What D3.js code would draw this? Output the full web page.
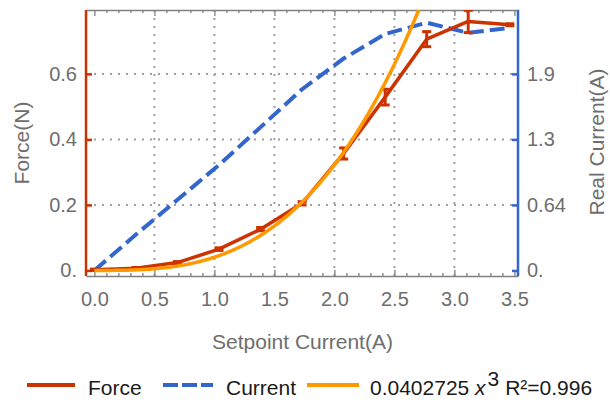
<!DOCTYPE html>
<html lang="en">
<head>
    <meta charset="UTF-8">
    <title>Force vs Setpoint Current</title>
    <style type="text/css">
        * {
            margin: 0;
            padding: 0;
        }

        body {
            background: #fff;
        }

        #chart-area {
            width: 610px;
            height: 402px;
        }

        text {
            font-family: "Liberation Sans", Arial, sans-serif;
        }
    </style>
</head>
<body>
<div id="chart-area"></div>
<script src="https://cdn.jsdelivr.net/npm/d3@7"></script>
<script type="text/javascript">

  const WIDTH = 610
  const HEIGHT = 402

  // measured data
  const setpoint = [0, 0.346, 0.692, 1.038, 1.385, 1.731, 2.077, 2.423, 2.769, 3.115, 3.462]
  const force = [0.002, 0.007, 0.024, 0.065, 0.126, 0.205, 0.357, 0.529, 0.706, 0.760, 0.750]
  const forceErr = [0.002, 0.002, 0.003, 0.004, 0.005, 0.005, 0.017, 0.024, 0.023, 0.034, 0.003]
  const current = [0, 0.35, 0.69, 1.03, 1.40, 1.77, 2.07, 2.31, 2.42, 2.32, 2.37]

  // fitted cubic  F = a * x^3
  const fitCoef = 0.0402725
  const fitR2 = 0.996

  // ticks
  const xTicks = [0, 0.5, 1, 1.5, 2, 2.5, 3, 3.5]
  const xTickLabels = ['0.0', '0.5', '1.0', '1.5', '2.0', '2.5', '3.0', '3.5']
  const forceTicks = [0, 0.2, 0.4, 0.6]
  const forceTickLabels = ['0.', '0.2', '0.4', '0.6']
  const currentTicks = [0, 0.64, 1.28, 1.92]
  const currentTickLabels = ['0.', '0.64', '1.3', '1.9']

  const RED = '#cc3300'
  const BLUE = '#3366cc'
  const ORANGE = '#ff9900'
  const GRAY = '#6e6e6e'

  const pLeft = 86, pRight = 518, pTop = 10, pBottom = 276

  const svg = d3.select('#chart-area').append('svg')
      .attr('width', WIDTH)
      .attr('height', HEIGHT)

  const x = d3.scaleLinear().domain([-0.07, 3.53]).range([pLeft, pRight])
  const yF = d3.scaleLinear().domain([-0.017, 0.795]).range([pBottom, pTop])
  // right axis is the left one scaled by 3.2
  const yC = d3.scaleLinear().domain([-0.017 * 3.2, 0.795 * 3.2]).range([pBottom, pTop])

  svg.append('clipPath').attr('id', 'plot-clip')
      .append('rect')
      .attr('x', pLeft).attr('y', pTop)
      .attr('width', pRight - pLeft).attr('height', pBottom - pTop)

  // grid
  const grid = svg.append('g')
      .attr('stroke', '#a0a0a0')
      .attr('stroke-width', 2)
      .attr('stroke-dasharray', '2,6')
  grid.selectAll('.vgrid')
      .data(xTicks.filter(d => d > 0 && d < 3.5))
      .enter().append('line')
      .attr('x1', d => x(d)).attr('x2', d => x(d))
      .attr('y1', pBottom).attr('y2', pTop)
  grid.selectAll('.hgrid')
      .data(forceTicks.filter(d => d > 0))
      .enter().append('line')
      .attr('x1', pLeft).attr('x2', pRight)
      .attr('y1', d => yF(d)).attr('y2', d => yF(d))

  // frame: bottom / top
  const fmt = (d) => xTickLabels[xTicks.indexOf(d)]
  const minor = d3.range(0, 36).map(d => d / 10).filter(d => !xTicks.some(t => Math.abs(t - d) < 1e-6))

  const bottomAxis = svg.append('g')
      .attr('transform', `translate(0, ${pBottom})`)
      .call(d3.axisBottom(x).tickValues(xTicks).tickFormat(fmt).tickSizeInner(-6).tickSizeOuter(0).tickPadding(16))
  bottomAxis.append('g')
      .call(d3.axisBottom(x).tickValues(minor).tickFormat('').tickSizeInner(-3).tickSizeOuter(0))
      .select('.domain').remove()

  const topAxis = svg.append('g')
      .attr('transform', `translate(0, ${pTop})`)
      .call(d3.axisTop(x).tickValues(xTicks).tickFormat('').tickSizeInner(-6).tickSizeOuter(0))
  topAxis.append('g')
      .call(d3.axisTop(x).tickValues(minor).tickFormat('').tickSizeInner(-3).tickSizeOuter(0))
      .select('.domain').remove()

  svg.selectAll('.tick line, .domain').attr('stroke', '#808080').attr('stroke-width', 1.3)
  bottomAxis.selectAll('text')
      .attr('fill', GRAY)
      .attr('font-size', 20)
      .attr('font-family', '"Liberation Sans", Arial, sans-serif')

  // left (force) axis
  const leftAxis = svg.append('g')
      .attr('transform', `translate(${pLeft}, 0)`)
      .call(d3.axisLeft(yF).tickValues(forceTicks)
          .tickFormat(d => forceTickLabels[forceTicks.indexOf(d)])
          .tickSizeInner(-6).tickSizeOuter(0).tickPadding(9))
  leftAxis.select('.domain').attr('stroke', RED).attr('stroke-width', 2.5)
      .attr('d', `M0,${pTop}V${pBottom}`)
  leftAxis.selectAll('.tick line').attr('stroke', RED).attr('stroke-width', 2.5)
  leftAxis.selectAll('text').attr('fill', GRAY).attr('font-size', 20)
      .attr('font-family', '"Liberation Sans", Arial, sans-serif')

  // right (current) axis
  const rightAxis = svg.append('g')
      .attr('transform', `translate(${pRight}, 0)`)
      .call(d3.axisRight(yC).tickValues(currentTicks)
          .tickFormat(d => currentTickLabels[currentTicks.indexOf(d)])
          .tickSizeInner(-6).tickSizeOuter(0).tickPadding(9))
  rightAxis.select('.domain').attr('stroke', BLUE).attr('stroke-width', 2.5)
      .attr('d', `M0,${pTop}V${pBottom}`)
  rightAxis.selectAll('.tick line').attr('stroke', BLUE).attr('stroke-width', 2.5)
  rightAxis.selectAll('text').attr('fill', GRAY).attr('font-size', 20)
      .attr('font-family', '"Liberation Sans", Arial, sans-serif')

  // series
  const plot = svg.append('g').attr('clip-path', 'url(#plot-clip)')

  const currentLine = d3.line()
      .x((d, i) => x(setpoint[i]))
      .y(d => yC(d))
  plot.append('path')
      .attr('d', currentLine(current))
      .attr('fill', 'none')
      .attr('stroke', BLUE)
      .attr('stroke-width', 4)
      .attr('stroke-dasharray', '15,6')

  const forceLine = d3.line()
      .x((d, i) => x(setpoint[i]))
      .y(d => yF(d))
  plot.append('path')
      .attr('d', forceLine(force))
      .attr('fill', 'none')
      .attr('stroke', RED)
      .attr('stroke-width', 3.5)
      .attr('stroke-linejoin', 'round')

  const errBars = plot.selectAll('.err')
      .data(force.map((f, i) => ({x: setpoint[i], f: f, e: forceErr[i]})))
      .enter().append('g')
      .attr('stroke', RED)
      .attr('stroke-width', 3)
  errBars.append('line')
      .attr('x1', d => x(d.x)).attr('x2', d => x(d.x))
      .attr('y1', d => yF(d.f - d.e)).attr('y2', d => yF(d.f + d.e))
  errBars.append('line')
      .attr('x1', d => x(d.x) - 4.5).attr('x2', d => x(d.x) + 4.5)
      .attr('y1', d => yF(d.f - d.e)).attr('y2', d => yF(d.f - d.e))
  errBars.append('line')
      .attr('x1', d => x(d.x) - 4.5).attr('x2', d => x(d.x) + 4.5)
      .attr('y1', d => yF(d.f + d.e)).attr('y2', d => yF(d.f + d.e))

  const fitX = d3.range(0, 2.8, 0.02)
  const fitLine = d3.line()
      .x(d => x(d))
      .y(d => yF(fitCoef * d * d * d))
      .curve(d3.curveMonotoneX)
  plot.append('path')
      .attr('d', fitLine(fitX))
      .attr('fill', 'none')
      .attr('stroke', ORANGE)
      .attr('stroke-width', 3.5)

  // axis titles
  svg.append('text')
      .attr('x', (pLeft + pRight) / 2 + 0.5)
      .attr('y', 349)
      .attr('text-anchor', 'middle')
      .attr('fill', GRAY)
      .attr('font-size', 21)
      .text('Setpoint Current(A)')
  svg.append('text')
      .attr('transform', `translate(29, 143) rotate(-90)`)
      .attr('text-anchor', 'middle')
      .attr('fill', GRAY)
      .attr('font-size', 21)
      .text('Force(N)')
  svg.append('text')
      .attr('transform', `translate(604, 142) rotate(-90)`)
      .attr('text-anchor', 'middle')
      .attr('fill', GRAY)
      .attr('font-size', 21)
      .text('Real Current(A)')

  // legend
  const legend = svg.append('g').attr('transform', 'translate(0, 385)')
  const legendItems = [
    {x1: 27, x2: 75, color: RED, dash: null},
    {x1: 163, x2: 213, color: BLUE, dash: '15,4'},
    {x1: 307, x2: 359, color: ORANGE, dash: null}
  ]
  legend.selectAll('.key')
      .data(legendItems)
      .enter().append('line')
      .attr('x1', d => d.x1).attr('x2', d => d.x2)
      .attr('y1', 0).attr('y2', 0)
      .attr('stroke', d => d.color)
      .attr('stroke-width', 4)
      .attr('stroke-dasharray', d => d.dash)

  legend.append('text').attr('x', 88).attr('y', 10)
      .attr('font-size', 21).attr('fill', '#1a1a1a')
      .text('Force')
  legend.append('text').attr('x', 226).attr('y', 10)
      .attr('font-size', 21).attr('fill', '#1a1a1a')
      .text('Current')
  const fitText = legend.append('text').attr('x', 370).attr('y', 10)
      .attr('font-size', 21).attr('fill', '#1a1a1a')
  fitText.append('tspan').text(fitCoef + ' ')
  fitText.append('tspan').attr('font-style', 'italic').text('x')
  fitText.append('tspan').attr('dx', 2).attr('dy', -9).attr('font-size', 21).text('3')
  fitText.append('tspan').attr('dy', 9).text(' R²=' + fitR2)

</script>
</body>
</html>
